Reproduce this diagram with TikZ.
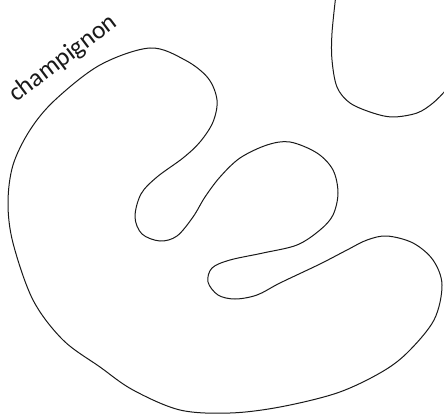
\documentclass[tikz,border=0pt]{standalone}
\usepackage{fontspec}
\setmainfont{Carlito}
\begin{document}
\begin{tikzpicture}[x=1pt,y=-1pt,
  outline/.style={draw=black!90,line width=1pt},
  lbl/.style={font=\fontsize{25.5}{30}\selectfont,inner sep=0pt,text=black!90}]
\useasboundingbox (0,0) rectangle (444,414);
\clip (0,0) rectangle (444,414);
\draw[outline] plot[smooth cycle,tension=0.55] coordinates {
(150,48) (185,60) (208,78) (217,100) (213,122) (200,142) (183,158) (157,177)
(141,194) (135,217) (142,234) (160,241) (177,236) (193,217) (205,197) (220,177)
(240,158) (267,145) (290,142) (317,153) (333,170) (338,193) (333,215) (320,230)
(297,245) (263,253) (230,260) (212,268) (208,282) (218,295) (235,299) (257,295)
(280,283) (320,264) (347,250) (367,240) (387,236) (413,243) (433,260) (442,285)
(434,320) (407,353) (380,373) (337,393) (280,407) (230,413) (180,410) (133,390)
(100,367) (63,340) (33,300) (13,243) (8,203) (13,165) (30,130) (55,100) (100,65)};
\draw[outline] plot[smooth,tension=0.55] coordinates {
(336,-6) (332,33) (332,60) (337,87) (350,103) (373,113) (393,117) (417,113) (433,103) (446,90) (452,82)};
\node[lbl,anchor=base west,rotate=37] (t) at (16,103) {champignon};
\end{tikzpicture}
\end{document}
